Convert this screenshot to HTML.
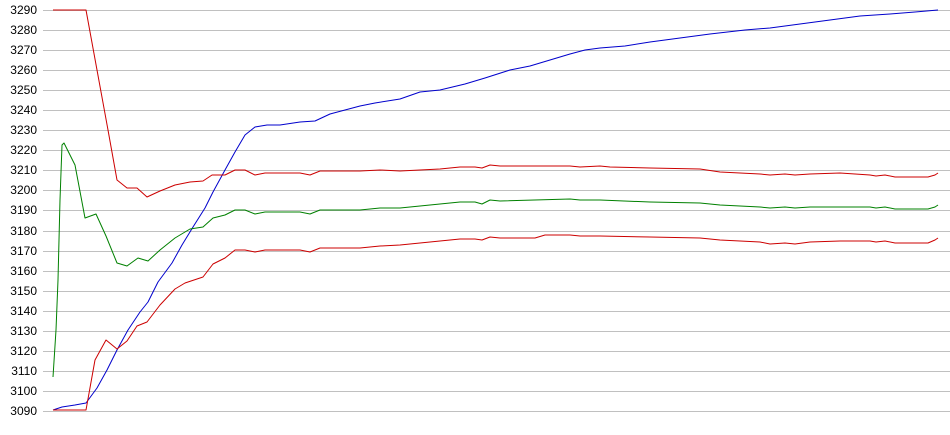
<!DOCTYPE html>
<html><head><meta charset="utf-8"><style>
html,body{margin:0;padding:0;background:#fff;}
svg{display:block;}
text{font-family:"Liberation Sans",Arial,sans-serif;font-size:12px;fill:#000;}
</style></head><body>
<svg width="950" height="435" viewBox="0 0 950 435" xmlns="http://www.w3.org/2000/svg">
<g stroke="#c0c0c0" stroke-width="1">
<line x1="43" x2="950" y1="10.5" y2="10.5"/><line x1="43" x2="950" y1="30.5" y2="30.5"/><line x1="43" x2="950" y1="50.5" y2="50.5"/><line x1="43" x2="950" y1="70.5" y2="70.5"/><line x1="43" x2="950" y1="90.5" y2="90.5"/><line x1="43" x2="950" y1="110.5" y2="110.5"/><line x1="43" x2="950" y1="130.5" y2="130.5"/><line x1="43" x2="950" y1="150.5" y2="150.5"/><line x1="43" x2="950" y1="170.5" y2="170.5"/><line x1="43" x2="950" y1="190.5" y2="190.5"/><line x1="43" x2="950" y1="210.5" y2="210.5"/><line x1="43" x2="950" y1="231.5" y2="231.5"/><line x1="43" x2="950" y1="251.5" y2="251.5"/><line x1="43" x2="950" y1="271.5" y2="271.5"/><line x1="43" x2="950" y1="291.5" y2="291.5"/><line x1="43" x2="950" y1="311.5" y2="311.5"/><line x1="43" x2="950" y1="331.5" y2="331.5"/><line x1="43" x2="950" y1="351.5" y2="351.5"/><line x1="43" x2="950" y1="371.5" y2="371.5"/><line x1="43" x2="950" y1="391.5" y2="391.5"/><line x1="43" x2="950" y1="411.5" y2="411.5"/>
</g>
<g text-anchor="end">
<text x="37" y="14">3290</text><text x="37" y="34">3280</text><text x="37" y="54">3270</text><text x="37" y="74">3260</text><text x="37" y="94">3250</text><text x="37" y="114">3240</text><text x="37" y="134">3230</text><text x="37" y="154">3220</text><text x="37" y="174">3210</text><text x="37" y="194">3200</text><text x="37" y="214">3190</text><text x="37" y="235">3180</text><text x="37" y="255">3170</text><text x="37" y="275">3160</text><text x="37" y="295">3150</text><text x="37" y="315">3140</text><text x="37" y="335">3130</text><text x="37" y="355">3120</text><text x="37" y="375">3110</text><text x="37" y="395">3100</text><text x="37" y="415">3090</text>
</g>
<g fill="none" stroke-width="1" stroke-linejoin="round">
<polyline stroke="#0000cc" points="53,410 62,407 75,405 86,403 97,388 107,370 117,350 128,330 140,312 148,302 158,282 172,263 182,245 193,227 205,208 213,192 225,170 235,152 245,135 255,127 267,125 280,125 300,122 315,121 330,114 345,110 360,106 375,103 400,99 420,92 440,90 465,84 485,78 510,70 530,66 550,60 570,54 585,50 600,48 625,46 650,42 680,38 710,34 745,30 770,28 800,24 830,20 860,16 890,14 915,12 938,10"/>
<polyline stroke="#cc0000" points="53,10 86,10 97,70 108,130 117,180 127,188 137,188 147,197 160,191 175,185 190,182 203,181 212,175 225,175 235,170 245,170 255,175 265,173 300,173 310,175 320,171 360,171 380,170 400,171 420,170 440,169 460,167 475,167 482,168 490,165 500,166 570,166 580,167 600,166 610,167 650,168 700,169 720,172 760,174 770,175 785,174 795,175 810,174 840,173 870,175 876,176 885,175 895,177 928,177 935,175 938,173"/>
<polyline stroke="#008000" points="53,377 56,330 58,280 60,200 62,145 64,143 75,165 85,218 96,214 106,236 117,263 127,266 138,258 148,261 160,250 175,238 190,229 203,227 213,218 225,215 235,210 245,210 255,214 265,212 300,212 310,214 320,210 360,210 380,208 400,208 420,206 440,204 460,202 475,202 482,204 490,200 500,201 570,199 580,200 600,200 650,202 700,203 720,205 760,207 770,208 785,207 795,208 810,207 840,207 870,207 876,208 885,207 895,209 928,209 935,207 938,205"/>
<polyline stroke="#cc0000" points="53,410 86,410 95,360 106,340 117,349 127,341 137,326 147,322 160,305 175,289 185,283 203,277 213,264 225,258 235,250 245,250 255,252 265,250 300,250 310,252 320,248 360,248 380,246 400,245 420,243 440,241 460,239 475,239 482,240 490,237 500,238 535,238 545,235 570,235 580,236 600,236 650,237 700,238 720,240 760,242 770,244 785,243 795,244 810,242 840,241 870,241 876,242 885,241 895,243 928,243 935,240 938,238"/>
</g>
</svg>
</body></html>
